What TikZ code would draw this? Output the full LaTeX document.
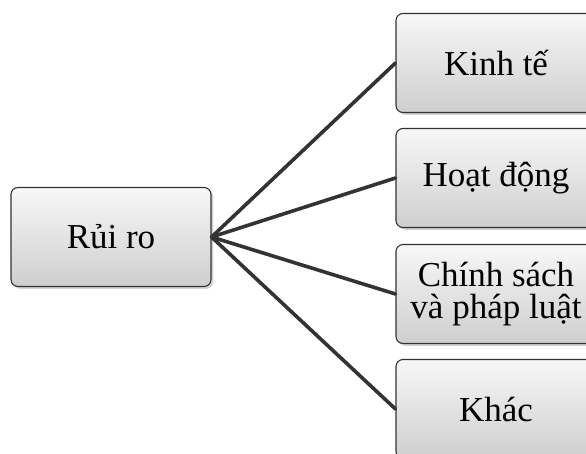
\documentclass[tikz,border=0pt]{standalone}
\usepackage{fontspec}
\setmainfont{Liberation Serif}
\usetikzlibrary{shadows}

\tikzset{
  riskbox/.style={draw=black!80, line width=1.1pt, rounded corners=7pt,
    top color=gray!6, bottom color=gray!38, drop shadow={opacity=0.35},
    minimum width=200pt, minimum height=99pt, align=center,
    font=\fontsize{35}{32}\selectfont},
  link/.style={line width=3.6pt, draw=black!80}
}

\begin{document}
\begin{tikzpicture}[x=1pt, y=-1pt, line cap=round, line join=round]
  \useasboundingbox (0,0) rectangle (586,453);
  \clip (0,0) rectangle (586,453);
  \node[riskbox] (ruiro) at (111,237) {Rủi ro};
  \node[riskbox] (kinhte) at (496,63) {Kinh tế};
  \node[riskbox] (hoatdong) at (496,178) {Hoạt động};
  \node[riskbox] (chinhsach) at (496,294) {Chính sách\\và pháp luật};
  \node[riskbox] (khac) at (496,409) {Khác};
  \draw[link] (ruiro.east) -- (kinhte.west);
  \draw[link] (ruiro.east) -- (hoatdong.west);
  \draw[link] (ruiro.east) -- (chinhsach.west);
  \draw[link] (ruiro.east) -- (khac.west);
\end{tikzpicture}
\end{document}
